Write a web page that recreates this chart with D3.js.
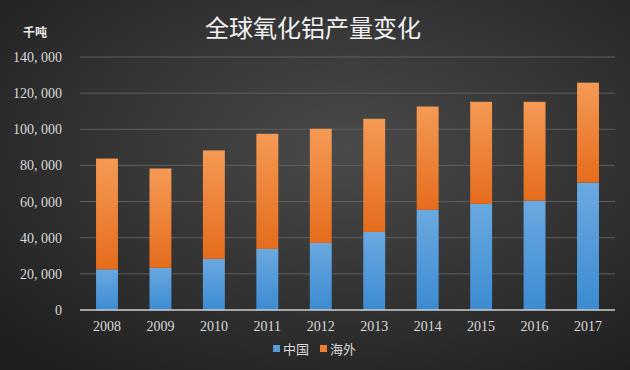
<!DOCTYPE html>
<html>
<head>
<meta charset="utf-8">
<script src="https://cdn.jsdelivr.net/npm/d3@7"></script>
<style>
  body { margin: 0; background: #2a2a2a; }
  svg { display: block; }
</style>
</head>
<body>
<div id="chart"></div>
<script>
// data (千吨)
var years = ['2008', '2009', '2010', '2011', '2012', '2013', '2014', '2015', '2016', '2017'];
var china = [22500, 23300, 28300, 33800, 37100, 43200, 55400, 58700, 60500, 70500];
var overseas = [61300, 55000, 60000, 63700, 63200, 62600, 57200, 56500, 54700, 55300];
var seriesNames = ['中国', '海外'];
var yTicks = [0, 20000, 40000, 60000, 80000, 100000, 120000, 140000];

var width = 630, height = 370;
var margin = {top: 57, bottom: 60, left: 80, right: 15};
var plotW = width - margin.left - margin.right;
var plotH = height - margin.top - margin.bottom;

var svg = d3.select('#chart').append('svg')
    .attr('width', width)
    .attr('height', height);

var defs = svg.append('defs');

// background radial gradient
var bg = defs.append('radialGradient').attr('id', 'bg')
    .attr('cx', '55%').attr('cy', '40%').attr('r', '75%');
bg.append('stop').attr('offset', '0%').attr('stop-color', '#4a4a4a');
bg.append('stop').attr('offset', '100%').attr('stop-color', '#1f1f1f');

var gBlue = defs.append('linearGradient').attr('id', 'gBlue').attr('x1', 0).attr('y1', 0).attr('x2', 0).attr('y2', 1);
gBlue.append('stop').attr('offset', '0%').attr('stop-color', '#6aa9e0');
gBlue.append('stop').attr('offset', '100%').attr('stop-color', '#3c8bd2');

var gOrange = defs.append('linearGradient').attr('id', 'gOrange').attr('x1', 0).attr('y1', 0).attr('x2', 0).attr('y2', 1);
gOrange.append('stop').attr('offset', '0%').attr('stop-color', '#f59a55');
gOrange.append('stop').attr('offset', '100%').attr('stop-color', '#e56c1c');

svg.append('rect').attr('width', width).attr('height', height).attr('fill', 'url(#bg)');

var g = svg.append('g').attr('transform', `translate(${margin.left},${margin.top})`);

// Scales setup
var xScale = d3.scaleBand().domain(years).range([0, plotW]).paddingInner(0.59).paddingOuter(0.3);
var yScale = d3.scaleLinear().domain([0, 140000]).range([plotH, 0]);

// gridlines
g.selectAll('line.grid').data(yTicks.slice(1)).enter().append('line')
    .attr('class', 'grid')
    .attr('x1', 0).attr('x2', plotW)
    .attr('y1', (d) => yScale(d)).attr('y2', (d) => yScale(d))
    .attr('stroke', '#5e5e5e').attr('stroke-width', 1);

// y axis
var yAxis = d3.axisLeft(yScale).tickValues(yTicks).tickSize(0).tickPadding(18)
    .tickFormat(d3.format(','));
var gy = g.append('g').call(yAxis);
gy.select('.domain').remove();
gy.selectAll('text')
    .attr('fill', '#d9d9d9')
    .style('font-family', '"Liberation Serif", serif')
    .style('font-size', '14px')
    .text((d) => d3.format(',')(d).replace(/,/g, ', '));

// stacked bars
var rows = years.map((y, i) => ({year: y, china: china[i], overseas: overseas[i]}));
var stack = d3.stack().keys(['china', 'overseas'])(rows);
var fills = ['url(#gBlue)', 'url(#gOrange)'];

stack.forEach(function(layer, li) {
    g.selectAll('rect.s' + li).data(layer).enter().append('rect')
        .attr('class', 's' + li)
        .attr('x', (d) => xScale(d.data.year))
        .attr('width', xScale.bandwidth())
        .attr('y', (d) => yScale(d[1]))
        .attr('height', (d) => yScale(d[0]) - yScale(d[1]))
        .attr('fill', fills[li]);
});

// x axis
var xAxis = d3.axisBottom(xScale).tickSize(0).tickPadding(11);
var gx = g.append('g').attr('transform', `translate(0,${plotH})`).call(xAxis);
gx.select('.domain').attr('stroke', '#cfcfcf').attr('stroke-width', 1.5)
    .attr('d', `M0,0H${plotW}`);
gx.selectAll('text')
    .attr('fill', '#d9d9d9')
    .style('font-family', '"Liberation Serif", serif')
    .style('font-size', '14px');

// title and unit
svg.append('text')
    .attr('x', 313).attr('y', 37)
    .attr('text-anchor', 'middle')
    .attr('fill', '#f2f2f2')
    .style('font-family', '"Noto Sans CJK SC", sans-serif')
    .style('font-size', '24px')
    .text('全球氧化铝产量变化');

svg.append('text')
    .attr('x', 35).attr('y', 37)
    .attr('text-anchor', 'middle')
    .attr('fill', '#e6e6e6')
    .style('font-family', '"Noto Sans CJK SC", sans-serif')
    .style('font-weight', 'bold')
    .style('font-size', '12px')
    .text('千吨');

// legend
var legendColors = ['#5b9bd5', '#ed7d31'];
var legend = svg.append('g').attr('transform', 'translate(273,349)');
seriesNames.forEach(function(name, i) {
    var item = legend.append('g').attr('transform', `translate(${i * 47},0)`);
    item.append('rect').attr('x', 0).attr('y', -4).attr('width', 7).attr('height', 7)
        .attr('fill', legendColors[i]);
    item.append('text').attr('x', 10).attr('y', 5)
        .attr('fill', '#d9d9d9')
        .style('font-family', '"Noto Sans CJK SC", sans-serif')
        .style('font-size', '13px')
        .text(name);
});
</script>
</body>
</html>
